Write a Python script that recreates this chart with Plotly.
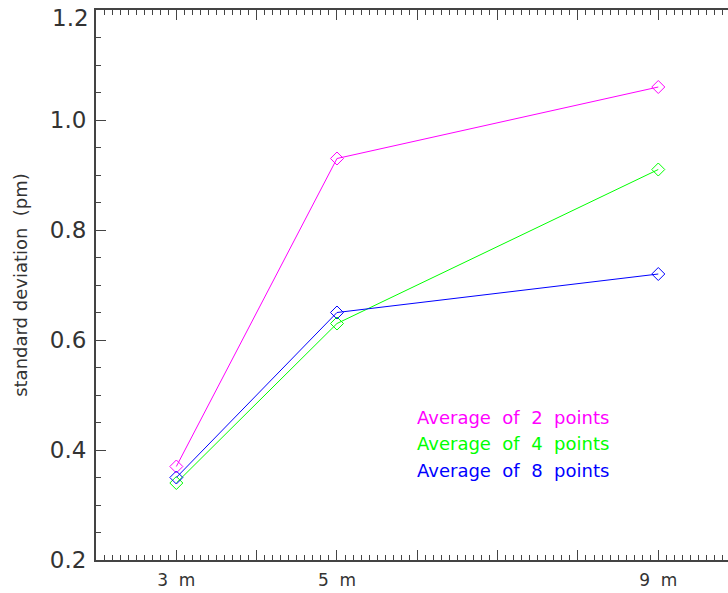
import plotly.graph_objects as go

distances = [3, 5, 9]
x_tick_vals = [2, 3, 4, 5, 6, 7, 8, 9, 10]
x_tick_text = ["", "3 m", "", "5 m", "", "", "", "9 m", ""]
y_tick_vals = [0.2, 0.4, 0.6, 0.8, 1.0, 1.2]
y_tick_text = ["0.2", "0.4", "0.6", "0.8", "1.0", "1.2"]

series_names = ["Average of 2 points", "Average of 4 points", "Average of 8 points"]
avg2 = [0.37, 0.93, 1.06]
avg4 = [0.34, 0.63, 0.91]
avg8 = [0.35, 0.65, 0.72]
series_values = [avg2, avg4, avg8]
colors = ["#ff00ff", "#00ff00", "#0000ff"]
legend_y = [0.46, 0.411, 0.362]
legend_x = 5.975

FONT = "DejaVu Sans"
AX = "#444444"
TXT = "#333333"
YFONT = 23

fig = go.Figure()
for name, vals, col in zip(series_names, series_values, colors):
    fig.add_trace(go.Scatter(
        x=distances, y=vals, mode="lines+markers", name=name,
        line=dict(color=col, width=1),
        marker=dict(symbol="diamond-open", size=10, color=col, line=dict(width=1, color=col)),
    ))

for name, col, ly in zip(series_names, colors, legend_y):
    fig.add_annotation(x=legend_x, y=ly, xref="x", yref="y",
                       text=name.replace(" ", "\u00a0 "),
                       showarrow=False, xanchor="left", yanchor="middle",
                       font=dict(family=FONT, size=18, color=col))

# top tick label sits just below its tick (as in the reference) so it stays inside the page
top_label = y_tick_text[-1]
axis_text = y_tick_text[:-1] + [""]
fig.add_annotation(x=0, y=y_tick_vals[-1], xref="paper", yref="y", text=top_label,
                   showarrow=False, xanchor="right", yanchor="middle", xshift=-5, yshift=-8,
                   font=dict(family=FONT, size=YFONT, color=TXT))

fig.update_layout(
    width=728, height=593,
    margin=dict(l=96, r=0, t=10, b=33, pad=0),
    paper_bgcolor="white", plot_bgcolor="white",
    showlegend=False,
    font=dict(family=FONT, color=TXT),
)
fig.update_xaxes(
    range=[2, 9.868], tickvals=x_tick_vals, ticktext=[t.replace(" ", "\u00a0 ") for t in x_tick_text],
    ticks="inside", ticklen=10, tickwidth=1, tickcolor=AX,
    showline=True, linecolor=AX, linewidth=2, mirror="allticks",
    showgrid=False, zeroline=False, automargin=False,
    tickfont=dict(family=FONT, size=17, color=TXT),
    ticklabelstandoff=4, ticklabeloverflow="allow",
    minor=dict(dtick=0.1, tick0=2, ticks="inside", ticklen=5, tickwidth=1, tickcolor=AX, showgrid=False),
)
fig.update_yaxes(
    range=[0.2, 1.2000001], tickvals=y_tick_vals, ticktext=axis_text,
    ticks="inside", ticklen=10, tickwidth=1, tickcolor=AX,
    showline=True, linecolor=AX, linewidth=2, mirror=False,
    showgrid=False, zeroline=False, automargin=False,
    tickfont=dict(family=FONT, size=YFONT, color=TXT),
    ticklabelstandoff=3, ticklabeloverflow="allow",
    minor=dict(dtick=0.05, tick0=0.2, ticks="inside", ticklen=5, tickwidth=1, tickcolor=AX, showgrid=False),
    title=dict(text="standard deviation  (pm)", font=dict(family=FONT, size=18, color=TXT), standoff=18),
)

fig.write_html(
    "out.html",
    config={"displayModeBar": False},
    post_script="document.body.style.margin='0';document.documentElement.style.overflow='hidden';document.body.style.overflow='hidden';",
)
